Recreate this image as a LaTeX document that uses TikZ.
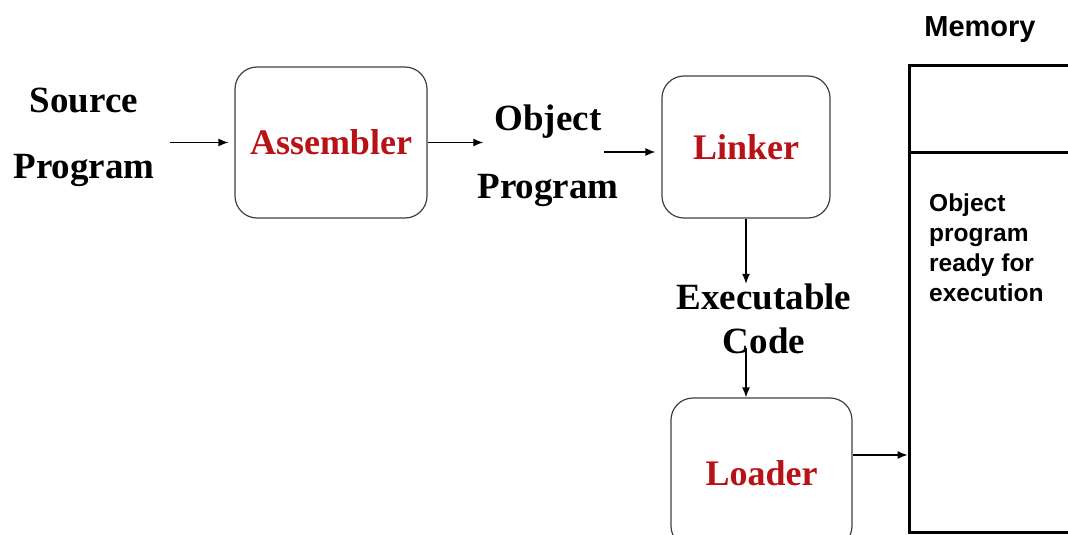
\documentclass[tikz,border=0pt]{standalone}
\usepackage{fontspec}
\setmainfont{Liberation Serif}
\newfontfamily\memfont{Liberation Sans}
\usetikzlibrary{arrows.meta}
\definecolor{stepred}{RGB}{185,18,22}
\tikzset{
  txt/.style={inner sep=0pt, align=center, font=\fontsize{37}{66}\selectfont\bfseries},
  stage/.style={draw=black!75, line width=1.2pt, rounded corners=22pt, inner sep=0pt,
    font=\fontsize{36}{40}\selectfont\bfseries, text=stepred},
  arr/.style={-{Latex[length=10pt,width=8pt]}, line width=1.3pt}
}
\begin{document}
\begin{tikzpicture}[x=1pt,y=-1pt]
      \useasboundingbox (0,0) rectangle (1068,535);
      \begin{scope}
      \clip (0,0) rectangle (1068,535);
      \node[txt] (src) at (84,137) {Source\\Program};
      \node[stage, minimum width=192pt, minimum height=151pt] (asm) at (331,142.5) {\raisebox{-3pt}{Assembler}};
      \node[txt, font=\fontsize{37}{68}\selectfont\bfseries] (obj) at (548,156) {Object\\Program};
      \node[stage, minimum width=168pt, minimum height=142pt] (lnk) at (746,147) {\raisebox{-3pt}{Linker}};
      \node[txt, font=\fontsize{37}{44}\selectfont\bfseries] (exe) at (764,319) {Executable\\Code};
      \node[stage, minimum width=181pt, minimum height=150pt] (ldr) at (761.5,473) {Loader};
      % memory block
      \node[draw, line width=3pt, minimum width=180pt, minimum height=466pt, inner sep=0pt] (mem) at (999,299) {};
      \draw[line width=3pt] (mem.west |- 0,152) -- (mem.east |- 0,152);
      \node[inner sep=0pt, font=\memfont\fontsize{29}{30}\selectfont\bfseries] (memlbl) at (980,30) {Memory};
      \node[inner sep=0pt, anchor=north west, align=left, font=\memfont\fontsize{24.5}{30}\selectfont\bfseries] (memtxt) at (929,194) {Object\\program\\ready for\\execution};
      % arrows
      \draw[arr, shorten <=15pt, shorten >=6pt] (src.east |- asm.west) -- (asm.west);
      \draw[arr, shorten >=-6pt] (asm.east) -- (asm.east -| obj.west);
      \draw[arr] ([xshift=-57pt,yshift=-5pt]lnk.west) -- ([xshift=-6pt,yshift=-5pt]lnk.west);
      \draw[arr] (lnk.south) -- (lnk.south |- exe.north);
      \draw[arr, shorten <=-6pt] (lnk.south |- exe.south) -- (lnk.south |- ldr.north);
      \draw[arr] ([yshift=18pt]ldr.east) -- ([yshift=18pt]ldr.east -| mem.west);
      \end{scope}
\end{tikzpicture}
\end{document}
